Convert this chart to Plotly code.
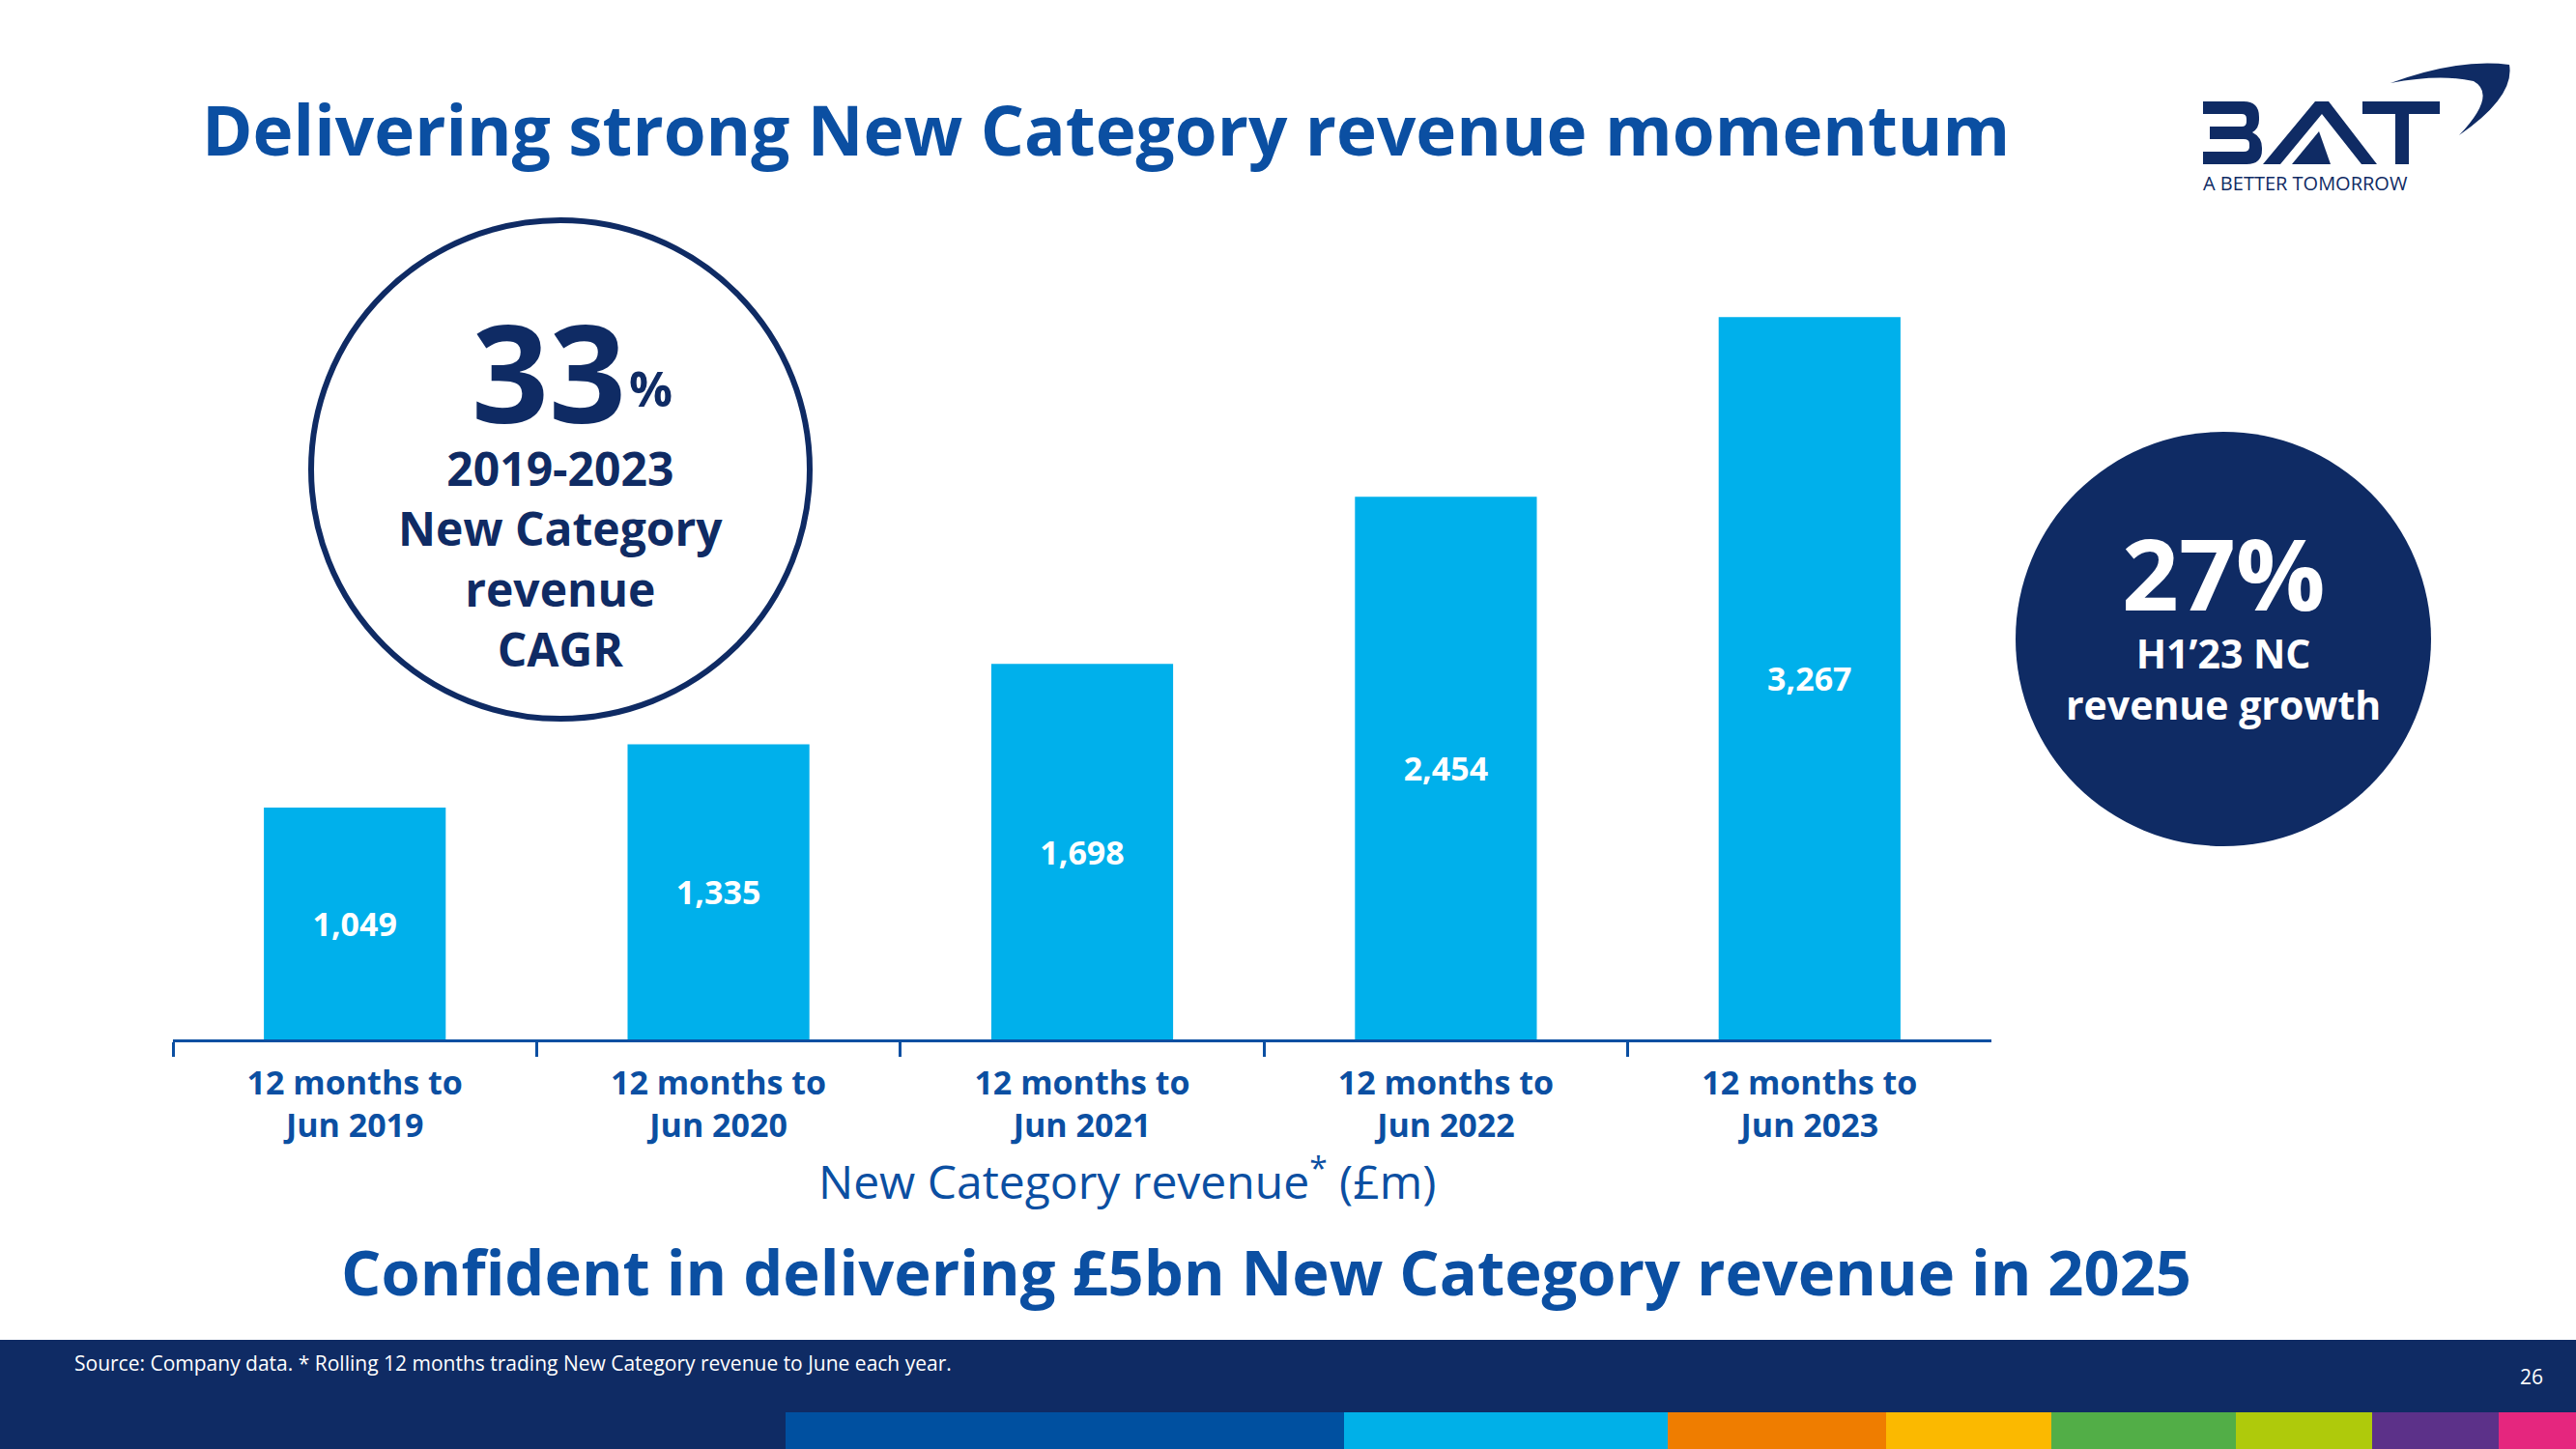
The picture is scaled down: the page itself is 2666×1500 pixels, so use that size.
import plotly.graph_objects as go

# ---------------- data ----------------
categories = ["12 months to<br>Jun 2019", "12 months to<br>Jun 2020", "12 months to<br>Jun 2021",
              "12 months to<br>Jun 2022", "12 months to<br>Jun 2023"]
revenue_gbp_m = [1049, 1335, 1698, 2454, 3267]

title_text = "Delivering strong New Category revenue momentum"
subtitle_text = "Confident in delivering £5bn New Category revenue in 2025"
axis_title_text = "New Category revenue<sup>*</sup> (£m)"
cagr_value = "33"
cagr_label = "2019-2023<br>New Category<br>revenue<br>CAGR"
growth_value = "27%"
growth_label = "H1’23 NC<br>revenue growth"
source_text = "Source: Company data. * Rolling 12 months trading New Category revenue to June each year."
page_number = "26"

# ---------------- style ----------------
W, H = 2666, 1500
BLUE = "#0B4FA2"
NAVY = "#0F2B64"
BAR = "#00B0EB"
FONT = "Open Sans"
stripe_colors = ["#0050A0", "#00B0E8", "#EF7D00", "#FBB900", "#52AE47", "#AFCA0B", "#5C3189", "#E5267E"]
stripe_edges = [813, 1391, 1726, 1952, 2123, 2314, 2455, 2586, 2666]


def px(x):
    return x / W


def py(y):
    return 1 - y / H


def path(cmds):
    out = []
    for c, pts in cmds:
        s = c
        for (x, y) in pts:
            s += f" {px(x):.5f},{py(y):.5f}"
        out.append(s)
    return " ".join(out)


fig = go.Figure()
fig.add_trace(go.Bar(
    x=categories, y=revenue_gbp_m, width=0.5,
    marker=dict(color=BAR, line=dict(width=0)),
    texttemplate="%{y:,}", textposition="inside", insidetextanchor="middle",
    textangle=0, constraintext="none",
    textfont=dict(family=FONT, size=34, color="white", weight="bold"),
    hoverinfo="skip",
))

shapes = []
# footer band
shapes.append(dict(type="rect", xref="paper", yref="paper", x0=0, x1=1, y0=0, y1=py(1387),
                   fillcolor=NAVY, line=dict(width=0), layer="below"))
for i, c in enumerate(stripe_colors):
    shapes.append(dict(type="rect", xref="paper", yref="paper",
                       x0=px(stripe_edges[i]), x1=px(stripe_edges[i + 1]), y0=0, y1=py(1462),
                       fillcolor=c, line=dict(width=0), layer="below"))
# left outlined circle
shapes.append(dict(type="circle", xref="paper", yref="paper",
                   x0=px(322), x1=px(838), y0=py(744), y1=py(228),
                   fillcolor="rgba(0,0,0,0)", line=dict(color=NAVY, width=6)))
# right filled circle
shapes.append(dict(type="circle", xref="paper", yref="paper",
                   x0=px(2086), x1=px(2516), y0=py(876), y1=py(447),
                   fillcolor=NAVY, line=dict(width=0)))

# ---- BAT logo (drawn) ----
B = [("M", [(2280, 105)]), ("L", [(2322, 105)]), ("Q", [(2338, 105), (2338, 121)]),
     ("L", [(2338, 124)]), ("Q", [(2338, 133), (2331, 137)]), ("Q", [(2341, 142), (2341, 153)]),
     ("L", [(2341, 155)]), ("Q", [(2341, 170), (2325, 170)]), ("L", [(2280, 170)]),
     ("L", [(2280, 157)]), ("L", [(2322, 157)]), ("Q", [(2328, 157), (2328, 152)]),
     ("L", [(2328, 149)]), ("Q", [(2328, 144), (2322, 144)]), ("L", [(2287, 144)]),
     ("L", [(2287, 131)]), ("L", [(2320, 131)]), ("Q", [(2325, 131), (2325, 126)]),
     ("L", [(2325, 123)]), ("Q", [(2325, 118), (2320, 118)]), ("L", [(2280, 118)]), ("Z", [])]
A_out = [("M", [(2342, 170)]), ("L", [(2396, 105)]), ("L", [(2410, 105)]), ("L", [(2460, 170)]),
         ("L", [(2444, 170)]), ("L", [(2403, 118)]), ("L", [(2360, 170)]), ("Z", [])]
A_in = [("M", [(2372, 170)]), ("L", [(2400, 136)]), ("L", [(2412, 170)]), ("Z", [])]
T = [("M", [(2445, 105)]), ("L", [(2525, 105)]), ("L", [(2525, 118)]), ("L", [(2493, 118)]),
     ("L", [(2493, 170)]), ("L", [(2479, 170)]), ("L", [(2479, 118)]), ("L", [(2445, 118)]), ("Z", [])]
SW = [("M", [(2474, 86)]), ("Q", [(2545, 60), (2597, 67)]), ("Q", [(2603, 100), (2545, 140)]),
      ("Q", [(2585, 98), (2560, 84)]), ("Q", [(2525, 76), (2474, 86)]), ("Z", [])]
for p in (B, A_out, A_in, T, SW):
    shapes.append(dict(type="path", xref="paper", yref="paper", path=path(p),
                       fillcolor=NAVY, line=dict(width=0)))

annotations = []


def ann(text, x, y, size, color, bold=False, xanchor="center", yanchor="middle"):
    annotations.append(dict(
        text=text, x=px(x), y=py(y), xref="paper", yref="paper", showarrow=False,
        xanchor=xanchor, yanchor=yanchor, align="center",
        font=dict(family=FONT, size=size, color=color, weight=("bold" if bold else "normal"))))


ann(title_text, 1144, 133, 71, BLUE, bold=True)
ann(subtitle_text, 1310, 1316, 65, BLUE, bold=True)
ann(axis_title_text, 1166, 1220, 48, BLUE)
ann(cagr_value, 568, 383, 140, NAVY, bold=True)
ann("%", 674, 402, 50, NAVY, bold=True)
ann(cagr_label, 580, 578, 48, NAVY, bold=True)
ann(growth_value, 2301, 592, 103, "white", bold=True)
ann(growth_label, 2301, 702, 41, "white", bold=True)
ann("A BETTER TOMORROW", 2278, 189, 20, NAVY, xanchor="left")
ann(source_text, 75, 1411, 21, "white", xanchor="left")
ann(page_number, 2620, 1425, 21, "white")

fig.update_layout(
    width=W, height=H,
    margin=dict(l=0, r=0, t=0, b=0),
    paper_bgcolor="white", plot_bgcolor="white",
    showlegend=False, bargap=0.5,
    font=dict(family=FONT, color=BLUE),
    shapes=shapes, annotations=annotations,
    xaxis=dict(domain=[px(179), px(2061)], type="category", range=[-0.5, 4.5],
               showline=True, linecolor=BLUE, linewidth=3,
               ticks="outside", tickson="boundaries", ticklen=15, tickwidth=3, tickcolor=BLUE,
               showgrid=False, zeroline=False, ticklabelstandoff=13,
               tickfont=dict(family=FONT, size=34, color=BLUE, weight="bold")),
    yaxis=dict(domain=[py(1076), py(252)], range=[0, 3600], visible=False,
               showgrid=False, zeroline=False),
)

fig.write_html("out.html", config={"displayModeBar": False},
               post_script="document.body.style.margin='0px';")
